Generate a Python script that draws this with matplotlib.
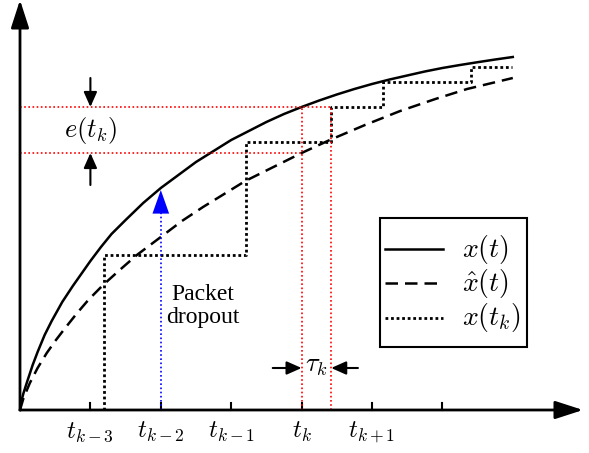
import numpy as np
import matplotlib.pyplot as plt
from matplotlib.lines import Line2D
from matplotlib.patches import Rectangle

plt.rcParams['mathtext.fontset'] = 'cm'

# values: t in sampling periods, height in pixels above the time axis
solid_t = [0, 0.02, 0.05, 0.1, 0.18, 0.25, 0.35, 0.45, 0.6, 0.75, 0.9, 1.0, 1.15, 1.3, 1.5,
           1.75, 2.0, 2.25, 2.5, 2.75, 3.0, 3.25, 3.5, 3.75, 4.0, 4.25, 4.5, 4.75, 5.0, 5.25,
           5.5, 5.75, 6.0, 6.25, 6.5, 6.75, 7.0]
solid_h = [0, 9, 17, 28, 45, 58, 75, 89, 108, 124, 139, 149, 163, 176, 190,
           207, 222, 235, 248, 259, 270, 279, 288, 296, 303, 309.5, 315.5, 321, 326, 330.5,
           334.5, 338.5, 342, 345, 347.8, 350.5, 353]

dash_t = [0, 0.05, 0.14, 0.25, 0.38, 0.5, 0.62, 0.8, 0.97, 1.18, 1.4, 1.66, 2.0, 2.3, 2.6,
          2.9, 3.2, 3.6, 4.0, 4.4, 4.9, 5.4, 5.9, 6.35, 7.0]
dash_h = [0, 12, 27, 42, 57, 69, 80, 96, 110, 125, 139, 155, 173, 189, 203,
          216, 229, 243, 257, 270, 285, 299, 311, 321, 332]

stair_t = [1.19, 1.19, 3.21, 4.42, 5.16, 6.41, 6.99]
stair_h = [0, 155, 268, 303, 328, 343, 343]

tick_t = [1, 2, 3, 4, 5, 6]
tick_lbl = ['$t_{k-3}$', '$t_{k-2}$', '$t_{k-1}$', '$t_k$', '$t_{k+1}$', '']

t_k = 4.0
tau = 0.42
x_tk = 303      # x(t_k)
xhat_tk = 257   # xhat(t_k)
drop_t = 2.0
drop_h = 220

W, H = 589, 453
fig = plt.figure(figsize=(W / 100, H / 100), dpi=100)
ax = fig.add_axes([0, 0, 1, 1])
ax.set_xlim(-20 / 70.4, 569 / 70.4)
ax.set_ylim(-43, 410)

# axes with arrow heads
for s in ['top', 'right', 'left', 'bottom']:
    ax.spines[s].set_visible(False)
ax.annotate('', xy=(563 / 70.4, 0), xytext=(0, 0),
            arrowprops=dict(arrowstyle='-|>,head_length=17,head_width=5.5', mutation_scale=1,
                            lw=2, color='k', shrinkA=0, shrinkB=0))
ax.annotate('', xy=(0, 410), xytext=(0, 0),
            arrowprops=dict(arrowstyle='-|>,head_length=17,head_width=5.5', mutation_scale=1,
                            lw=2, color='k', shrinkA=0, shrinkB=0))
ax.set_yticks([])
ax.set_xticks(tick_t)
ax.set_xticklabels(tick_lbl, fontsize=18)
for t in tick_t:
    ax.plot([t, t], [0, 7], color='k', lw=1.5)
ax.tick_params(axis='x', length=0, pad=-24)

# curves
solid_style = dict(color='k', lw=1.8)
dash_style = dict(color='k', lw=1.8, dashes=(5, 2.8))
dot_style = dict(color='k', lw=2, dashes=(1, 1))
ax.plot(solid_t, solid_h, **solid_style)
ax.plot(dash_t, dash_h, **dash_style)
ax.step(stair_t, stair_h, where='post', **dot_style)

# red guides
red = dict(color='red', lw=1.2, dashes=(1, 1.5))
ax.plot([0, t_k + tau], [x_tk, x_tk], **red)
ax.plot([0, t_k], [xhat_tk, xhat_tk], **red)
ax.plot([t_k, t_k], [0, x_tk], **red)
ax.plot([t_k + tau, t_k + tau], [0, x_tk], **red)

# packet dropout
ax.plot([drop_t, drop_t], [0, drop_h - 22], color='blue', lw=1.2, dashes=(1, 1.5))
ax.annotate('', xy=(drop_t, drop_h), xytext=(drop_t, drop_h - 23),
            arrowprops=dict(arrowstyle='-|>,head_length=17,head_width=6', mutation_scale=1,
                            lw=0, color='blue', shrinkA=0, shrinkB=0))
ax.text(2.59, 104, 'Packet\ndropout', fontsize=17, family='Liberation Serif',
        ha='center', va='center', linespacing=1.15)

# e(t_k) arrows
arw = dict(arrowstyle='-|>,head_length=9,head_width=4', mutation_scale=1, lw=1.5,
           color='k', shrinkA=0, shrinkB=0)
ax.annotate('', xy=(1.0, x_tk), xytext=(1.0, 332), arrowprops=arw)
ax.annotate('', xy=(1.0, xhat_tk), xytext=(1.0, 225), arrowprops=arw)
ax.text(1.0, 280, '$e(t_k)$', fontsize=19, ha='center', va='center')

# tau_k arrows
ax.annotate('', xy=(t_k, 42), xytext=(3.59, 42), arrowprops=arw)
ax.annotate('', xy=(t_k + tau, 42), xytext=(4.80, 42), arrowprops=arw)
ax.text(t_k + tau / 2, 45, r'$\tau_k$', fontsize=19, ha='center', va='center')

# legend box drawn by hand (pixel layout from the picture)
def fx(px):
    return px / W

def fy(py):
    return 1 - py / H

fig.add_artist(Rectangle((fx(380), fy(347)), fx(527) - fx(380), fy(218) - fy(347),
                         transform=fig.transFigure, fill=True, facecolor='white',
                         edgecolor='k', lw=1.5))
labels = ['$x(t)$', r'$\hat{x}(t)$', '$x(t_k)$']
styles = [solid_style, dash_style, dot_style]
rows = [249, 283, 318]
for lab, st, r in zip(labels, styles, rows):
    fig.add_artist(Line2D([fx(385), fx(443)], [fy(r), fy(r)], transform=fig.transFigure, **st))
    fig.text(fx(462), fy(r), lab, fontsize=20, ha='left', va='center')

fig.savefig('out.png', dpi=100)
